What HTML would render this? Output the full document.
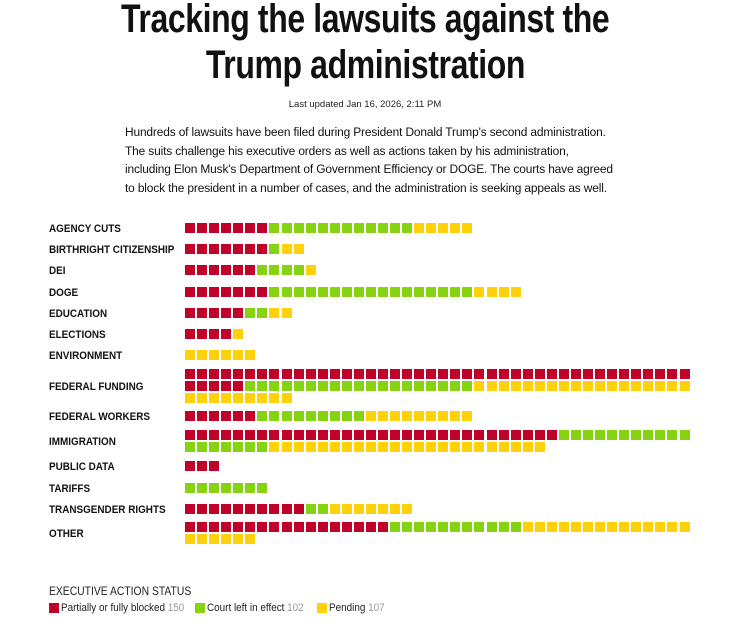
<!DOCTYPE html>
<html><head><meta charset="utf-8"><style>
body{margin:0;width:730px;height:630px;background:#fff;font-family:"Liberation Sans",sans-serif;position:relative;overflow:hidden;color:#111}
.t{position:absolute;left:0;width:730px;text-align:center;font-weight:bold;font-size:40px;line-height:46px;letter-spacing:-0.5px}
.t span{display:inline-block;transform:scaleX(0.8)}
.upd{position:absolute;top:99px;left:0;width:730px;text-align:center;font-size:9.5px;color:#222}
.p{position:absolute;left:125px;top:123px;width:520px;font-size:12.4px;line-height:18.5px;color:#111;letter-spacing:-0.15px;white-space:nowrap;transform:scaleX(0.962);transform-origin:0 0}
.l{position:absolute;left:49px;font-size:11px;font-weight:bold;color:#111;white-space:nowrap;transform:scaleX(0.9);transform-origin:0 0}
.s{position:absolute;width:10px;height:10px}
.r{background:#c0022a}.g{background:#86d312}.y{background:#ffd10a}
.leg{position:absolute;font-size:11px;color:#222;white-space:nowrap;transform:scaleX(0.9);transform-origin:0 0}
</style></head><body>
<div class="t" style="top:-4px"><span>Tracking the lawsuits against the</span></div>
<div class="t" style="top:42px"><span>Trump administration</span></div>
<div class="upd">Last updated Jan 16, 2026, 2:11 PM</div>
<div class="p">Hundreds of lawsuits have been filed during President Donald Trump's second administration.<br>The suits challenge his executive orders as well as actions taken by his administration,<br>including Elon Musk's Department of Government Efficiency or DOGE. The courts have agreed<br>to block the president in a number of cases, and the administration is seeking appeals as well.</div>
<div id="c"></div>
<div class="leg" style="left:49px;top:586px;font-size:11.5px">EXECUTIVE ACTION STATUS</div>
<div class="s r" style="left:49px;top:603px"></div><div class="leg" style="left:61px;top:602px">Partially or fully blocked <span style="color:#999">150</span></div>
<div class="s g" style="left:195px;top:603px"></div><div class="leg" style="left:207px;top:602px">Court left in effect <span style="color:#999">102</span></div>
<div class="s y" style="left:317px;top:603px"></div><div class="leg" style="left:329px;top:602px">Pending <span style="color:#999">107</span></div>
<script>
var rows=[["AGENCY CUTS",223,7,12,5],["BIRTHRIGHT CITIZENSHIP",244,7,1,2],["DEI",265,6,4,1],["DOGE",287,7,17,4],["EDUCATION",308,5,2,2],["ELECTIONS",329,4,0,1],["ENVIRONMENT",350,0,0,6],["FEDERAL FUNDING",369,47,19,27],["FEDERAL WORKERS",411,6,9,9],["IMMIGRATION",430,31,18,23],["PUBLIC DATA",461,3,0,0],["TARIFFS",483,0,7,0],["TRANSGENDER RIGHTS",504,10,2,7],["OTHER",522,17,11,20]];
var h="";
rows.forEach(function(r){
 var n=r[2]+r[3]+r[4];var lines=Math.ceil(n/42);
 var ly=r[1]+(lines-1)*6;
 if(r[0]=="FEDERAL FUNDING")ly=r[1]+12;
 h+='<div class="l" style="top:'+ly+'px">'+r[0]+'</div>';
 for(var i=0;i<n;i++){var c=i<r[2]?"r":(i<r[2]+r[3]?"g":"y");
  var x=185+(i%42)*12.06,y=r[1]+Math.floor(i/42)*12;
  h+='<div class="s '+c+'" style="left:'+x.toFixed(1)+'px;top:'+y+'px"></div>';}
});
document.getElementById("c").innerHTML=h;
</script>
</body></html>
